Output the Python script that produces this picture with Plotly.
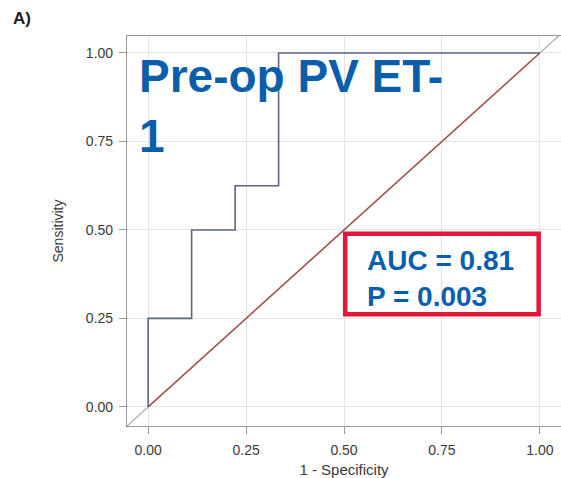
import plotly.graph_objects as go

# ROC step curve (1 - specificity, sensitivity)
fpr = [0.0, 0.0, 0.111, 0.111, 0.222, 0.222, 0.333, 0.333, 1.0]
tpr = [0.0, 0.25, 0.25, 0.5, 0.5, 0.625, 0.625, 1.0, 1.0]
chance_x = [0.0, 1.0]
chance_y = [0.0, 1.0]
ref_x = [-0.054, 1.06]
ref_y = [-0.054, 1.06]
tick_vals = [0.0, 0.25, 0.5, 0.75, 1.0]
tick_text = ["0.00", "0.25", "0.50", "0.75", "1.00"]
title_text = "Pre-op PV ET-<br>1"
stats_text = "AUC = 0.81<br>P = 0.003"

BLUE = "#0a5fad"
RED = "#e3173a"
FONT = "Liberation Sans, Arial, sans-serif"

fig = go.Figure()
fig.add_trace(go.Scatter(x=ref_x, y=ref_y, mode="lines",
                         line=dict(color="#a8a8a8", width=1.2), hoverinfo="skip"))
fig.add_trace(go.Scatter(x=chance_x, y=chance_y, mode="lines",
                         line=dict(color="#a5524a", width=1.5)))
fig.add_trace(go.Scatter(x=fpr, y=tpr, mode="lines",
                         line=dict(color="#5c6580", width=1.6)))

axis_common = dict(
    tickvals=tick_vals, ticktext=tick_text,
    tickfont=dict(family=FONT, size=14, color="#3a3a3a"),
    showgrid=True, gridcolor="#e4e4e4", gridwidth=1,
    zeroline=False,
    showline=True, linecolor="#9a9a9a", linewidth=1.2, mirror=True,
    ticks="outside", ticklen=7, tickcolor="#9a9a9a",
)

fig.update_layout(
    width=561, height=478,
    margin=dict(l=127, r=0, t=36, b=52),
    paper_bgcolor="white", plot_bgcolor="white",
    showlegend=False,
    xaxis=dict(range=[-0.054, 1.054], **axis_common, ticklabelstandoff=4,
               title=dict(text="1 - Specificity", standoff=8,
                          font=dict(family=FONT, size=15, color="#3a3a3a"))),
    yaxis=dict(range=[-0.054, 1.048], **axis_common, ticklabelstandoff=3,
               title=dict(text="Sensitivity", standoff=18,
                          font=dict(family=FONT, size=14, color="#3a3a3a"))),
)

fig.add_shape(type="rect", xref="x", yref="y",
              x0=0.503, x1=0.997, y0=0.262, y1=0.489,
              line=dict(color=RED, width=4.5), fillcolor="rgba(0,0,0,0)")

fig.add_annotation(xref="x", yref="y", x=0.553, y=0.362, xanchor="left", yanchor="middle",
                   text=stats_text, showarrow=False, align="left",
                   font=dict(family=FONT, size=28, color=BLUE, weight="bold"))

fig.add_annotation(xref="paper", yref="paper", x=0.023, y=0.97, xanchor="left", yanchor="top",
                   text=title_text, showarrow=False, align="left",
                   font=dict(family=FONT, size=46, color=BLUE, weight="bold"))

fig.add_annotation(xref="paper", yref="paper", x=-0.268, y=1.075, xanchor="left", yanchor="top",
                   text="A)", showarrow=False, align="left",
                   font=dict(family=FONT, size=17, color="#222222", weight="bold"))

fig.write_html("out.html")
